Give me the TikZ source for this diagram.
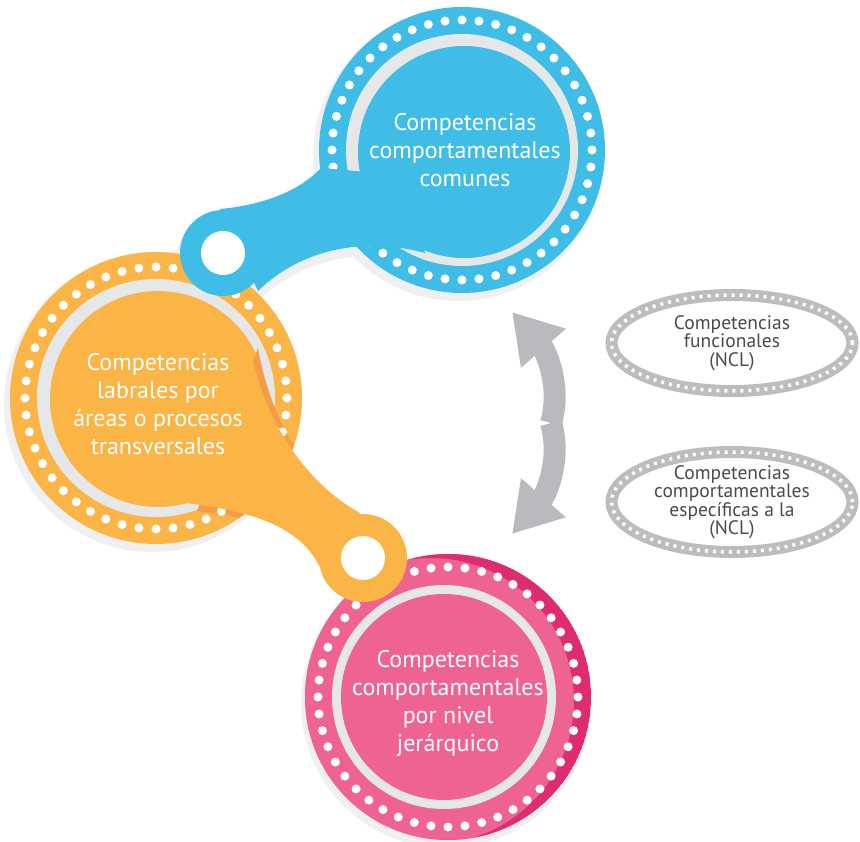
\documentclass[tikz,border=0pt]{standalone}
\usepackage{fontspec}
\setmainfont{PT Sans}
\usetikzlibrary{arrows.meta,shapes.geometric}

\definecolor{cblue}{HTML}{3FBDE6}
\definecolor{corange}{HTML}{FBB546}
\definecolor{corangedk}{HTML}{F59C4A}
\definecolor{cpink}{HTML}{EF6391}
\definecolor{cpinkdk}{HTML}{DF2B70}
\definecolor{cring}{HTML}{E6E7E9}
\definecolor{cshadow}{HTML}{F0F0F2}
\definecolor{carrow}{HTML}{B9BABD}
\definecolor{cgrey}{HTML}{BCBDBF}
\definecolor{ctext}{HTML}{4A4A4C}

\tikzset{
  bigdisc/.style={circle, minimum size=286pt, inner sep=0pt},
  bigtext/.style={text=white, align=center, font=\fontsize{24}{28}\selectfont},
  nclring/.style={ellipse, draw=cgrey, line width=12pt, minimum width=241pt, minimum height=96pt, inner sep=0pt,
    postaction={draw=white, line width=3.5pt, dash pattern=on 3pt off 5pt}},
  ncltext/.style={text=ctext, align=center, font=\fontsize{19.5}{18.5}\selectfont},
  bentarrow/.style={draw=carrow, line width=22pt, -{Triangle[length=48pt,width=56pt]}}
}

\begin{document}
\begin{tikzpicture}[x=1pt,y=-1pt]
\useasboundingbox (0,0) rectangle (860,842);

% shadows
\fill[cshadow] (446,703) circle (145);
\fill[cshadow] (152,404) circle (148);
\fill[cshadow] (458,156) circle (145);
\fill[cshadow] (218,263) circle (43);
\fill[cshadow] (220,219) .. controls (262,215) and (298,202) .. (321,178) -- (400,185) -- (425,263) .. controls (362,246) and (300,260) .. (258,301) -- cycle;

% pink
\node[bigdisc, fill=cpink] (nivel) at (448,697) {};
\begin{scope}
\clip (nivel) circle (143);
\fill[cpinkdk, even odd rule] (nivel) circle (143) (nivel) ++(-17,4) circle (143);
\end{scope}
\fill[cring] (nivel) ++(-4,0) circle (112);
\fill[cpink] (nivel) ++(-4,0) circle (103);
\foreach \a in {0,7.5,...,352.5}
  \fill[white] (nivel) ++(\a:130) circle (4.5);
\node[bigtext] (tnivel) at (448,703) {Competencias\\comportamentales\\por nivel\\jerárquico};

% orange
\node[bigdisc, fill=corange, minimum size=292pt] (areas) at (156,398) {};
\fill[cring] (areas) circle (119);
\fill[corange] (areas) ++(2,1) circle (108);
\begin{scope}
\clip (areas) circle (146);
\fill[corangedk] (258,348) .. controls (270,418) and (308,488) .. (372,521) -- (334,582) .. controls (317,538) and (272,520) .. (197,511) -- cycle;
\end{scope}
\foreach \a in {0,7.5,...,352.5}
  \fill[white] (areas) ++(\a:131) circle (4.5);
\fill[corange] (250,345) .. controls (260,410) and (300,480) .. (360,513) -- (322,572) .. controls (305,530) and (260,512) .. (185,503) -- cycle;
\node[circle, fill=corange, minimum size=88pt, inner sep=0pt] (alobe) at (363,558) {};
\fill[white] (alobe) circle (22);
\node[bigtext] (tareas) at (158,404) {Competencias\\labrales por\\áreas o procesos\\transversales};

% blue
\node[bigdisc, fill=cblue] (comunes) at (462,150) {};
\fill[cring] (comunes) circle (116);
\fill[cblue] (comunes) ++(2,2) circle (106);
\foreach \a in {0,7.5,...,352.5}
  \fill[white] (comunes) ++(\a:130) circle (4.5);
\fill[cblue] (220,209) .. controls (262,205) and (298,192) .. (321,168) -- (400,175) -- (425,253) .. controls (362,236) and (300,250) .. (258,291) -- cycle;
\node[circle, fill=cblue, minimum size=86pt, inner sep=0pt] (clobe) at (223,253) {};
\fill[white] (clobe) circle (22);
\node[bigtext] (tcomunes) at (465,150) {Competencias\\comportamentales\\comunes};

% arrow
\coordinate (amid) at (551,423);
\coordinate (atop) at (512,312);
\coordinate (abot) at (512,534);
\draw[bentarrow] (amid) .. controls (562,385) and (545,350) .. (atop);
\draw[bentarrow] (amid) .. controls (562,461) and (545,496) .. (abot);

% NCL
\node[nclring] (funcionales) at (732,343) {};
\node[ncltext] (tfuncionales) at (funcionales) {Competencias\\funcionales\\(NCL)};
\node[nclring, minimum height=100pt] (especificas) at (732,502) {};
\node[ncltext] (tespecificas) at (especificas) {Competencias\\comportamentales\\específicas a la\\(NCL)};

\end{tikzpicture}
\end{document}
